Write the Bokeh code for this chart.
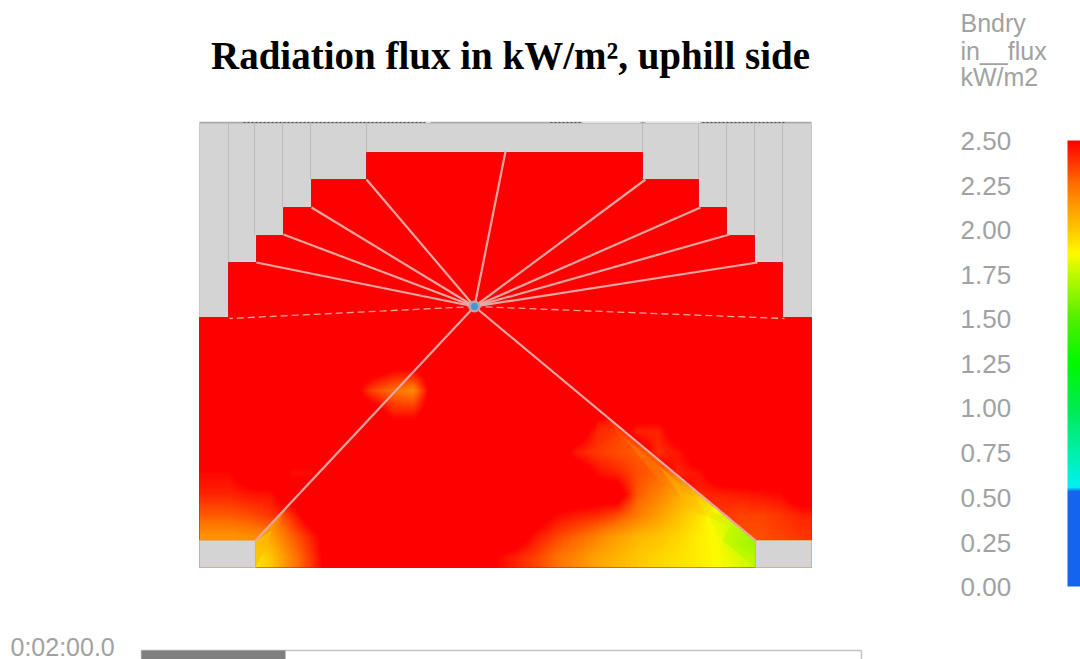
from bokeh.plotting import figure
from bokeh.models import Range1d, LinearColorMapper
from bokeh.core.properties import value
from bokeh.embed import file_html
from bokeh.resources import INLINE
import numpy as np

PAGE_W, PAGE_H = 1080, 659
title_text = "Radiation flux in kW/m², uphill side"
legend_title = ["Bndry", "in__flux", "kW/m2"]
legend_title_y = [22, 50, 76]
tick_labels = ["2.50", "2.25", "2.00", "1.75", "1.50", "1.25", "1.00", "0.75", "0.50", "0.25", "0.00"]
tick_y = [140, 185, 229, 274, 318, 363, 407, 452, 497, 542, 586]
time_label = "0:02:00.0"

stop_flux = [0.0, 0.53, 0.55, 0.75, 1.0, 1.25, 1.5, 1.75, 1.87, 2.0, 2.25, 2.5]
stop_r = [20, 20, 0, 0, 0, 0, 80, 190, 255, 255, 255, 255]
stop_g = [100, 100, 240, 240, 235, 250, 240, 250, 250, 200, 115, 0]
stop_b = [240, 240, 245, 170, 80, 0, 0, 0, 0, 0, 0, 0]

# flux, on cells about 20 px wide and 21 px tall
col_x = [209, 229, 250, 270, 291, 311, 331, 352, 372, 393, 413, 433, 454, 474, 495, 515, 535, 556, 576, 597, 617, 637, 658, 678, 699, 719, 739, 760, 780, 801]
row_y = [327, 348, 369, 390, 411, 431, 452, 473, 494, 515, 536, 557]
R = 2.6
top_327 = [R] * 30
top_348 = [R] * 30
top_369 = [R] * 9 + [2.5, 2.5] + [R] * 19
top_390 = [R, R, R, R, R, R, R, R, 2.34, 2.25, 2.18, R, R, R, R, R, R, R, R, R, R, R, R, R, R, R, R, R, R, R]

# inside the triangle under the centre
in_411 = [R] * 9 + [2.42, 2.42] + [R] * 8 + [R, 2.45, 2.45] + [R] * 8
in_431 = [R] * 19 + [2.42, 2.36, 2.36] + [R] * 8
in_452 = [R] * 18 + [2.44, 2.37, 2.33, 2.3, 2.3] + [R] * 7
in_473 = [R] * 19 + [2.47, 2.42, 2.33, 2.28, 2.2, 2.15] + [R] * 5
in_494 = [R] * 21 + [2.3, 2.2, 2.1, 2.02, 2.0, 2.0, 2.0, 2.0, 2.0]
in_515 = [2.2, 2.2, 2.2, 2.2, 2.4, R, R, R, R, R, R, R, R, R, R, R, R, 2.48, 2.44, 2.4, 2.33, 2.22, 2.12, 2.02, 1.93, 1.8, 1.75, 1.75, 1.75, 1.75]
in_536 = [2.05, 2.05, 2.05, 2.1, 2.28, 2.43, R, R, R, R, R, R, R, R, R, R, 2.45, 2.35, 2.28, 2.2, 2.12, 2.05, 2.01, 1.96, 1.9, 1.85, 1.72, 1.6, 1.6, 1.6]
in_557 = [1.9, 1.9, 1.9, 2.0, 2.2, 2.38, R, R, R, R, R, R, R, R, 2.5, 2.42, 2.35, 2.25, 2.18, 2.1, 2.05, 2.0, 1.96, 1.93, 1.9, 1.86, 1.8, 1.75, 1.75, 1.75]

# outside the triangle
out_411 = [R] * 9 + [2.42, 2.42] + [R] * 19
out_431 = [R] * 21 + [2.42, 2.42] + [R] * 7
out_452 = [R] * 6 + [2.47, 2.47] + [R] * 14 + [2.4, 2.45] + [R] * 6
out_473 = [2.48, 2.48, R, R, 2.47, 2.47] + [R] * 17 + [2.42, 2.46] + [R] * 5
out_494 = [2.42, 2.42, 2.45, 2.46] + [R] * 20 + [2.42, 2.42, 2.44, 2.46, 2.48, R]
out_515 = [2.3, 2.3, 2.33, 2.38, 2.46] + [R] * 19 + [2.38, 2.38, 2.35, 2.35, 2.38, 2.42]
out_536 = [2.15, 2.15, 2.17, 2.2, 2.4] + [R] * 21 + [2.33, 2.33, 2.35, 2.38]
out_557 = [2.15, 2.15, 2.17, 2.2, 2.4] + [R] * 21 + [2.33, 2.33, 2.35, 2.38]

strip_x = [[597, 610, 622, 594], [610, 622, 658, 626], [622, 658, 694, 658], [658, 694, 730, 690], [694, 730, 755, 722], [730, 755, 755, 722]]
strip_y = [[420, 420, 435, 440], [420, 435, 465, 450], [435, 465, 495, 480], [465, 495, 525, 510], [495, 525, 540, 540], [525, 540, 567, 540]]
strip_flux = [2.4, 2.3, 2.18, 2.02, 1.82, 1.68]
wedge_x = [[255, 290, 272, 255], [255, 272, 255]]
wedge_y = [[540, 502, 530, 567], [540, 530, 567]]
wedge_flux = [2.15, 1.98]

panel_left, panel_right, panel_top, panel_bottom = 199, 811, 123, 567
red_x = [199, 199, 228, 228, 256, 256, 283, 283, 311, 311, 366, 366, 642, 642, 698, 698, 726, 726, 754, 754, 782, 782, 811, 811]
red_y = [567, 317, 317, 262, 262, 235, 235, 207, 207, 179, 179, 152, 152, 179, 179, 207, 207, 235, 235, 262, 262, 317, 317, 567]
box_left = [199, 755]
box_right = [255, 811]
box_top = [540, 540]
box_bottom = [567, 567]
wall_x = [228, 254, 282, 310, 366, 642, 698, 726, 754, 782]
wall_end_y = [262, 235, 207, 179, 152, 152, 179, 207, 235, 262]
center_x, center_y = 474, 306
ray_end_x = [505, 366, 311, 283, 256, 645, 700, 729, 757, 255, 755]
ray_end_y = [151, 179, 207, 234, 262, 179, 207, 234, 262, 540, 540]
dash_end_x = [229, 784]
dash_end_y = [318, 318]
noise_x0 = [243, 550, 702]
noise_x1 = [425, 580, 784]
white_x0 = [425, 582, 645]
white_x1 = [430, 640, 700]

levels = np.linspace(0, 2.5, 256)
pal = ["#%02x%02x%02x" % (int(np.interp(v, stop_flux, stop_r)), int(np.interp(v, stop_flux, stop_g)), int(np.interp(v, stop_flux, stop_b))) for v in levels]
mapper = LinearColorMapper(palette=pal, low=0, high=2.5, high_color="#ff0000", low_color="#1464f0")

p = figure(width=PAGE_W, height=PAGE_H, x_range=Range1d(0, PAGE_W), y_range=Range1d(PAGE_H, 0),
           output_backend="svg", toolbar_location=None, min_border=0,
           background_fill_color="white", border_fill_color="white", outline_line_color=None)
p.axis.visible = False
p.grid.visible = False

p.quad(left=[panel_left], right=[panel_right], top=[panel_top], bottom=[panel_bottom], fill_color="#d4d4d4", line_color="#c8c8c8", line_width=1)
p.segment(x0=wall_x, x1=wall_x, y0=[panel_top] * len(wall_x), y1=wall_end_y, line_color="#bdbdbd", line_width=1)
p.patch(red_x, red_y, fill_color="#ff0000", line_color="#e11010", line_width=1)

def smooth(rows, fx, fy):
    a = np.array(rows, dtype=float)
    a = np.array([np.interp(fx, col_x, r) for r in a])
    return np.array([np.interp(fy, row_y, c) for c in a.T]).T

fine_x = np.arange(panel_left + 1, panel_right, 2.0)
fine_y = np.arange(318, 567, 2.0)
inner = smooth([top_327, top_348, top_369, top_390, in_411, in_431, in_452, in_473, in_494, in_515, in_536, in_557], fine_x, fine_y)
outer = smooth([top_327, top_348, top_369, top_390, out_411, out_431, out_452, out_473, out_494, out_515, out_536, out_557], fine_x, fine_y)
gx, gy = np.meshgrid(fine_x, fine_y)
inside = (gx >= center_x - (gy - center_y) * 219 / 234) & (gx <= center_x + (gy - center_y) * 281 / 234)
field = np.where(inside, inner, outer)
p.image(image=[field], x=panel_left, y=317, dw=panel_right - panel_left, dh=250, color_mapper=mapper)

p.patches(strip_x, strip_y, fill_color=[pal[int(v / 2.5 * 255)] for v in strip_flux], fill_alpha=0.35, line_color=None)
p.patches(wedge_x, wedge_y, fill_color=[pal[int(v / 2.5 * 255)] for v in wedge_flux], fill_alpha=0.45, line_color=None)

p.quad(left=box_left, right=box_right, top=box_top, bottom=box_bottom, fill_color="#d4d4d4", line_color="#e0b070", line_width=1)

n = len(ray_end_x)
p.segment(x0=[center_x] * n, y0=[center_y] * n, x1=ray_end_x, y1=ray_end_y, line_color="#e9a6a0", line_width=2.2)
p.segment(x0=[center_x] * 2, y0=[center_y] * 2, x1=dash_end_x, y1=dash_end_y, line_color="#e9a6a0", line_width=1.3, line_dash="7 4")
p.scatter([center_x], [center_y], size=12, marker="circle", fill_color="#b5a8a8", line_color=None)
p.scatter([center_x], [center_y], size=7, marker="circle", fill_color="#3f98d8", line_color=None)

p.segment(x0=[panel_left], x1=[panel_right], y0=[122], y1=[122], line_color="#a8a8a8", line_width=1.5)
p.segment(x0=noise_x0, x1=noise_x1, y0=[122] * 3, y1=[122] * 3, line_color="#555555", line_width=1, line_dash="2 2")
p.segment(x0=white_x0, x1=white_x1, y0=[122] * 3, y1=[122] * 3, line_color="#e8e8e8", line_width=1)

p.text([510], [55], text=[title_text], text_font=value("Liberation Serif"), text_font_style="bold",
       text_font_size="39px", text_align="center", text_baseline="middle", text_color="#000000")

p.text([960] * 3, legend_title_y, text=legend_title, text_font=value("Liberation Sans"), text_font_size="25px",
       text_align="left", text_baseline="middle", text_color="#a2a2a2")
p.text([960] * len(tick_labels), tick_y, text=tick_labels, text_font=value("Liberation Sans"), text_font_size="26px",
       text_align="left", text_baseline="middle", text_color="#a2a2a2")
p.image(image=[levels[::-1].reshape(-1, 1)], x=1067, y=140, dw=13, dh=446, color_mapper=mapper)

p.text([10], [646], text=[time_label], text_font=value("Liberation Sans"), text_font_size="25px",
       text_align="left", text_baseline="middle", text_color="#a2a2a2")
p.quad(left=[141], right=[861], top=[650], bottom=[662], fill_color="white", line_color="#c4c4c4", line_width=1.5)
p.quad(left=[141], right=[285], top=[650], bottom=[660], fill_color="#7f7f7f", line_color=None)

open("out.html", "w").write(file_html(p, INLINE))
